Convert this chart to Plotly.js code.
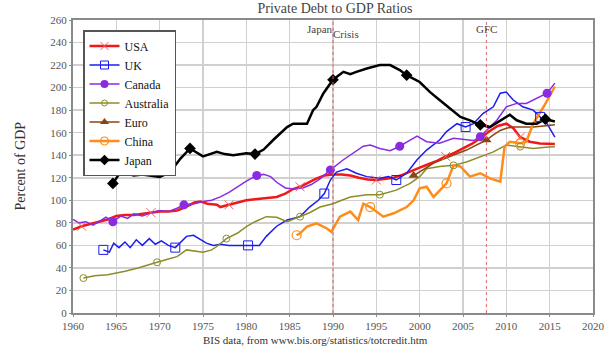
<!DOCTYPE html>
<html>
<head>
<meta charset="utf-8">
<script src="https://cdn.plot.ly/plotly-3.0.1.min.js"></script>
<style>html,body{margin:0;padding:0;background:#fff;}#chart{width:616px;height:346px;}</style>
</head>
<body>
<div id="chart"></div>
<script>
// ---- data ----
const seriesNames = ["USA", "UK", "Canada", "Australia", "Euro", "China", "Japan"];

const usaYears = [1960, 1961, 1962, 1963, 1964, 1965, 1966, 1967, 1968, 1969, 1970, 1971, 1972, 1973, 1974, 1974.7, 1975.5, 1976.6, 1977, 1978, 1979, 1980, 1981, 1982, 1983.5, 1984.5, 1985.4, 1986.2, 1987, 1988, 1989, 1990, 1991, 1992, 1993, 1994, 1995, 1996, 1997, 1998, 1999, 2000, 2001, 2002, 2003, 2004, 2005, 2006, 2007, 2008, 2009, 2010, 2010.8, 2011.6, 2012.7, 2013.9, 2015.6];
const usaValues = [74, 77, 79, 81, 83, 86, 87, 87, 88, 89, 90, 90, 91, 94, 98, 99, 97, 96, 94, 96, 98, 100, 101, 102, 103, 106, 110, 112, 115, 119, 122, 123, 123, 122, 120, 118.5, 118, 119, 120, 122.5, 126, 129, 132, 135, 139, 142, 146, 150, 155, 161, 166, 168, 164, 156, 152, 150.5, 150];

const ukYears = [1963.5, 1964.2, 1964.7, 1965.3, 1966, 1966.6, 1967.3, 1968, 1968.8, 1969.5, 1970.2, 1971, 1971.8, 1973.1, 1973.9, 1974.6, 1975.4, 1976.2, 1977, 1978, 1979, 1980.2, 1981.5, 1982.3, 1983.5, 1984.7, 1986.2, 1987.3, 1988.3, 1989, 1989.7, 1990.4, 1991.6, 1992.7, 1993.9, 1995.4, 1996.4, 1997.3, 1998.5, 1999.7, 2000.8, 2002.3, 2003.1, 2004.3, 2005.3, 2006.2, 2007.3, 2008.5, 2009.3, 2010, 2010.8, 2011.9, 2013.1, 2013.9, 2014.7, 2015.6];
const ukValues = [56, 54, 62, 58, 63, 58, 65, 60, 66, 61, 64, 60, 58, 68, 69, 66, 62, 60, 61, 60, 60, 60, 60, 68, 77, 82.5, 85.5, 94, 100, 106, 118, 125, 128, 124, 121, 119.5, 121, 118, 124, 136, 144.6, 153.5, 161, 168, 165, 168, 177, 183, 195, 196, 189, 183, 180, 174, 168, 156];

const canadaYears = [1960, 1960.7, 1961.5, 1962.3, 1963, 1963.8, 1964.6, 1965.5, 1966.3, 1967, 1968, 1969, 1970, 1971, 1972, 1972.8, 1974, 1975, 1976, 1977, 1978, 1979, 1980, 1981.2, 1982, 1982.8, 1983.5, 1984.5, 1985.4, 1986.5, 1987.5, 1988.5, 1989.7, 1991.2, 1992.3, 1993.5, 1994.3, 1995.4, 1996.6, 1997.7, 1998.9, 1999.7, 2000.8, 2002.3, 2003.9, 2005.4, 2006.2, 2007, 2007.7, 2008.9, 2010, 2011.2, 2012.3, 2013.5, 2014.7, 2015.6];
const canadaValues = [83, 80, 81, 78, 81, 85, 81, 86, 84, 88, 86, 89, 91, 90, 93, 96, 97, 99, 100, 103, 107, 112, 117, 122, 123, 121, 116, 111, 110, 111, 114, 119, 127, 136, 142, 148, 149, 146, 144, 148, 153.5, 157, 152, 150.6, 155, 153.5, 153, 156.5, 162, 171, 183, 186, 186, 190.5, 195, 204];

const australiaYears = [1961.2, 1962.5, 1964, 1964.7, 1966, 1967.5, 1969, 1969.7, 1971, 1972, 1973.1, 1974, 1975, 1976, 1976.6, 1977.7, 1979, 1980, 1981, 1982.3, 1983.5, 1984.7, 1986.2, 1987.3, 1988.5, 1990, 1991, 1992, 1993.9, 1995.4, 1997.3, 1998.9, 2000, 2000.8, 2002.3, 2003.9, 2005.4, 2007, 2008.5, 2010, 2011.6, 2013.1, 2014.5, 2015.6];
const australiaValues = [31, 33, 34, 35, 37, 40, 43, 45, 48, 50, 56, 55, 54, 56, 59, 66, 71, 76.6, 81, 85.5, 85, 81, 85.5, 89, 94, 97, 100, 103, 105, 105, 109, 115, 121, 128, 130, 131, 134, 139, 143, 149, 147.6, 146, 147, 147.6];

const euroYears = [1999.3, 2000, 2001, 2001.6, 2002.5, 2003.5, 2004.5, 2005.4, 2006.5, 2007.7, 2008.5, 2009.3, 2010, 2010.8, 2012, 2013.1, 2014.3, 2015.6];
const euroValues = [122, 125, 130, 133, 136, 139, 142, 144.6, 149, 153.5, 158, 162, 164, 165, 165, 165, 166, 167];

const chinaYears = [1985.8, 1986.2, 1987, 1988.1, 1989.3, 1989.8, 1990.8, 1992, 1992.9, 1993.5, 1994.3, 1995.8, 1997, 1998.5, 1999.3, 2000, 2000.8, 2001.6, 2003.1, 2003.9, 2004.7, 2005.8, 2007, 2008.1, 2009.3, 2009.8, 2010.4, 2011.6, 2012.3, 2013.1, 2014.3, 2015.6];
const chinaValues = [69, 70.7, 76.6, 79.6, 75, 72, 85.5, 90, 82.5, 97, 94, 85.5, 88.5, 94, 100, 110.6, 112, 103, 115, 131, 130, 121, 124, 119.5, 116.5, 147.6, 152, 150.6, 152, 168, 183, 201];

const japanYears = [1964.6, 1965.3, 1966.2, 1967, 1968, 1968.7, 1970, 1971.2, 1972.4, 1973.5, 1974.3, 1975, 1976.6, 1977.5, 1978.5, 1979.3, 1980, 1981, 1982, 1983.1, 1984.7, 1985.4, 1986.2, 1987, 1987.7, 1988.1, 1988.9, 1990, 1991.2, 1992, 1992.7, 1993.9, 1995.4, 1996.6, 1997.7, 1998.5, 2000, 2001.2, 2002.3, 2003.5, 2004.7, 2005.8, 2007, 2008.1, 2009.3, 2010.4, 2011.2, 2012.3, 2013.5, 2014.5, 2015.6];
const japanValues = [115, 123, 124, 122, 123, 122, 120.7, 125, 137, 146, 142, 139, 143, 141, 140, 141, 141.7, 141, 145, 153.5, 165, 168, 168, 168, 180, 183, 195, 207, 214, 212, 214, 217, 220, 220, 215.6, 211, 205, 196, 189, 181.6, 174, 171, 167, 165, 171, 176, 171, 168, 168, 172, 170];

const eventYears = [1990, 2007.7];
const xTickYears = [1960, 1965, 1970, 1975, 1980, 1985, 1990, 1995, 2000, 2005, 2010, 2015, 2020];
const yTickValues = [0, 20, 40, 60, 80, 100, 120, 140, 160, 180, 200, 220, 240, 260];

const chartTitle = "Private Debt to GDP Ratios";
const yTitle = "Percent of GDP";
const sourceNote = "BIS data, from www.bis.org/statistics/totcredit.htm";

// ---- styles ----
const serif = "'Liberation Serif', 'DejaVu Serif', serif";
const styles = [
  {color: "#f01818", width: 2.5, symbol: "x-thin-open", msize: 8, mcolor: "#f36060", mline: 1, from: 1961},
  {color: "#1c1cf0", width: 1.5, symbol: "square-open", msize: 8, mcolor: "#1c1cf0", mline: 1, from: 1963.5},
  {color: "#8a2be2", width: 1.5, symbol: "circle", msize: 8, mcolor: "#8a2be2", mline: 0, from: 1964.6},
  {color: "#8c8c2a", width: 1.5, symbol: "circle-open", msize: 6, mcolor: "#8c8c2a", mline: 1, from: 1961.2},
  {color: "#8b4513", width: 1.5, symbol: "triangle-up", msize: 8, mcolor: "#8b4513", mline: 0, from: 1999.3},
  {color: "#ff8c1a", width: 2.5, symbol: "circle-open", msize: 8, mcolor: "#ff8c1a", mline: 1.2, from: 1986},
  {color: "#000000", width: 2.5, symbol: "diamond", msize: 8, mcolor: "#000000", mline: 0, from: 1964.6}
];
const markerStep = 8.4;

const xs = [usaYears, ukYears, canadaYears, australiaYears, euroYears, chinaYears, japanYears];
const ys = [usaValues, ukValues, canadaValues, australiaValues, euroValues, chinaValues, japanValues];

function markerSubset(x, y, from) {
  const mx = [], my = [];
  const last = x[x.length - 1];
  for (let t = from; t <= last + 0.5; t += markerStep) {
    let best = 0, bd = Infinity;
    for (let i = 0; i < x.length; i++) {
      const d = Math.abs(x[i] - t);
      if (d < bd) { bd = d; best = i; }
    }
    mx.push(x[best]); my.push(y[best]);
  }
  return {mx, my};
}

const traces = [];
// legend entries
seriesNames.forEach((n, i) => {
  const s = styles[i];
  traces.push({
    x: [null], y: [null], name: n, type: "scatter", mode: "lines+markers",
    legendgroup: n, showlegend: true, hoverinfo: "skip",
    line: {color: s.color, width: s.width},
    marker: {symbol: s.symbol, size: s.msize, color: s.mcolor, line: {color: s.mcolor, width: s.mline}}
  });
});
// lines
seriesNames.forEach((n, i) => {
  const s = styles[i];
  traces.push({
    x: xs[i], y: ys[i], name: n, type: "scatter", mode: "lines",
    legendgroup: n, showlegend: false,
    line: {color: s.color, width: s.width}
  });
});
// markers
seriesNames.forEach((n, i) => {
  const s = styles[i];
  const m = markerSubset(xs[i], ys[i], s.from);
  traces.push({
    x: m.mx, y: m.my, name: n, type: "scatter", mode: "markers",
    legendgroup: n, showlegend: false,
    marker: {symbol: s.symbol, size: s.msize + 1, color: s.mcolor, line: {color: s.mcolor, width: s.mline}}
  });
});

const L = 73, R = 23, T = 20, B = 33, W = 616, H = 346;
const plotH = H - T - B, plotW = W - L - R;
const py = (pix) => (H - B - pix) / plotH;

const shapes = eventYears.map(yr => ({
  type: "line", xref: "x", yref: "paper", x0: yr, x1: yr, y0: 0, y1: 1,
  line: {color: "#d86a6a", width: 1, dash: "dot"}, layer: "above"
}));

const annFont = {family: serif, size: 11, color: "#444"};
const annotations = [
  {xref: "x", yref: "paper", x: eventYears[0], y: py(29), text: "Japan", showarrow: false, xanchor: "right", yanchor: "middle", xshift: 2, font: annFont},
  {xref: "x", yref: "paper", x: eventYears[0], y: py(34), text: "Crisis", showarrow: false, xanchor: "left", yanchor: "middle", xshift: -2, font: annFont},
  {xref: "x", yref: "paper", x: eventYears[1], y: py(29), text: "GFC", showarrow: false, xanchor: "center", yanchor: "middle", font: annFont},
  {xref: "paper", yref: "paper", x: (20 - L) / plotW, y: 0.5, text: yTitle, textangle: -90, showarrow: false, xanchor: "center", yanchor: "middle", font: {family: serif, size: 14, color: "#333"}},
  {xref: "paper", yref: "paper", x: (315 - L) / plotW, y: py(340), text: sourceNote, showarrow: false, xanchor: "center", yanchor: "middle", font: {family: serif, size: 11, color: "#333"}}
];

const axisCommon = {
  showgrid: true, gridcolor: "#d0d0d0", gridwidth: 1.5,
  showline: true, linecolor: "#8a8a8a", linewidth: 2, mirror: true,
  ticks: "outside", ticklen: 2, tickcolor: "#8a8a8a",
  tickfont: {family: serif, size: 11, color: "#555"},
  zeroline: false, automargin: false, fixedrange: true
};

const layout = {
  width: W, height: H,
  margin: {l: L, r: R, t: T, b: B, pad: 0},
  paper_bgcolor: "#fff", plot_bgcolor: "#fff",
  title: {text: chartTitle, font: {family: serif, size: 14, color: "#444"}, x: 335 / W, xanchor: "center", y: 1 - 8 / H, yanchor: "middle", yref: "container"},
  xaxis: Object.assign({}, axisCommon, {range: [1960, 2020], tickvals: xTickYears, ticktext: xTickYears.map(String)}),
  yaxis: Object.assign({}, axisCommon, {range: [0, 260], tickvals: yTickValues, ticktext: yTickValues.map(String)}),
  showlegend: true,
  legend: {
    x: (83 - L) / plotW, y: py(30), xanchor: "left", yanchor: "top",
    bgcolor: "#fff", bordercolor: "#555", borderwidth: 1.5,
    font: {family: serif, size: 12, color: "#111"},
    itemwidth: 30, tracegroupgap: 0, traceorder: "normal"
  },
  shapes: shapes,
  annotations: annotations
};

Plotly.newPlot("chart", traces, layout, {staticPlot: true, displayModeBar: false});
</script>
</body>
</html>
